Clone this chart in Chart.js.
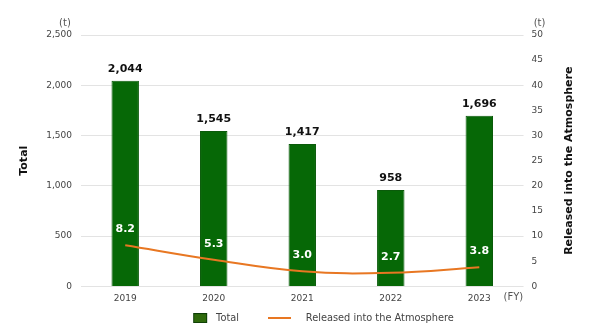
<!DOCTYPE html>
<html>
<head>
<meta charset="utf-8">
<script src="https://cdn.jsdelivr.net/npm/chart.js@4.4.0/dist/chart.umd.min.js"></script>
<style>
  body { margin: 0; background: #fff; }
  #wrap { width: 600px; height: 330px; }
</style>
</head>
<body>
<div id="wrap"><canvas id="chart" width="600" height="330"></canvas></div>
<script>
// data
const years = ['2019', '2020', '2021', '2022', '2023'];
const totalValues = [2044, 1545, 1417, 958, 1696];
const releasedValues = [8.2, 5.3, 3.0, 2.7, 3.8];
const leftTicks = [0, 500, 1000, 1500, 2000, 2500];
const rightTicks = [0, 5, 10, 15, 20, 25, 30, 35, 40, 45, 50];

const green = '#066806';
const orange = '#e87722';
const font = "'DejaVu Sans', Verdana, sans-serif";

// little pictures for the legend (wide, so the items get spaced out)
var boxImg = document.createElement('canvas');
boxImg.width = 60; boxImg.height = 10;
var bctx = boxImg.getContext('2d');
bctx.fillStyle = '#2f6a0c';
bctx.fillRect(42, 0, 14, 10);
bctx.strokeStyle = '#0c3d06';
bctx.lineWidth = 1;
bctx.strokeRect(42.5, 0.5, 13, 9);

var lineImg = document.createElement('canvas');
lineImg.width = 60; lineImg.height = 2;
var lctx = lineImg.getContext('2d');
lctx.fillStyle = orange;
lctx.fillRect(27, 0, 23, 2);

// push the legend a bit to the right, like the original
const legendShift = {
  id: 'legendShift',
  afterLayout(chart) {
    chart.legend.left += 18;
    chart.legend.right += 18;
  }
};

// value labels, (t), (FY) and the right axis title
const extraText = {
  id: 'extraText',
  afterDatasetsDraw(chart) {
    const ctx = chart.ctx;
    const barMeta = chart.getDatasetMeta(0);
    const lineMeta = chart.getDatasetMeta(1);
    ctx.save();
    ctx.textAlign = 'center';
    ctx.textBaseline = 'middle';
    ctx.font = 'bold 11px ' + font;
    ctx.fillStyle = '#111';
    barMeta.data.forEach(function (bar, i) {
      ctx.fillText(totalValues[i].toLocaleString('en-US'), bar.x, bar.y - 12);
    });
    ctx.fillStyle = '#fff';
    lineMeta.data.forEach(function (pt, i) {
      ctx.fillText(releasedValues[i].toFixed(1), pt.x, pt.y - 16);
    });

    ctx.font = '10px ' + font;
    ctx.fillStyle = '#555';
    const yl = chart.scales.y;
    const yr = chart.scales.y2;
    const x = chart.scales.x;
    ctx.fillText('(t)', yl.right - 16, yl.top - 12);
    ctx.fillText('(t)', yr.left + 16, yr.top - 12);
    ctx.textAlign = 'left';
    ctx.fillText('(FY)', chart.chartArea.right - 20, x.top + 11);

    // right title reads bottom to top
    ctx.translate(yr.right + 18, (yr.top + yr.bottom) / 2);
    ctx.rotate(-Math.PI / 2);
    ctx.textAlign = 'center';
    ctx.font = 'bold 11px ' + font;
    ctx.fillStyle = '#111';
    ctx.fillText('Released into the Atmosphere', 0, 0);
    ctx.restore();
  }
};

const myChart = new Chart('chart', {
  type: 'bar',
  data: {
    labels: years,
    datasets: [{
      label: 'Total',
      data: totalValues,
      backgroundColor: green,
      borderColor: '#0a5a0a',
      borderWidth: 1,
      barPercentage: 0.31,
      categoryPercentage: 1,
      yAxisID: 'y',
      order: 2
    }, {
      type: 'line',
      label: 'Released into the Atmosphere',
      data: releasedValues,
      borderColor: orange,
      borderWidth: 2,
      tension: 0.4,
      pointRadius: 0,
      fill: false,
      yAxisID: 'y2',
      order: 1
    }]
  },
  options: {
    responsive: false,
    animation: false,
    layout: { padding: { left: 18, right: 49, top: 35, bottom: -3 } },
    plugins: {
      tooltip: { enabled: false },
      legend: {
        position: 'bottom',
        labels: {
          usePointStyle: true,
          pointStyleWidth: 60,
          boxHeight: 10,
          padding: 2,
          color: '#444',
          font: { family: font, size: 9.8 },
          generateLabels: function () {
            return [
              { text: 'Total', pointStyle: boxImg, fontColor: '#444', datasetIndex: 0, lineWidth: 0 },
              { text: 'Released into the Atmosphere', pointStyle: lineImg, fontColor: '#444', datasetIndex: 1, lineWidth: 0 }
            ];
          }
        }
      }
    },
    scales: {
      x: {
        grid: { display: false, drawTicks: false },
        border: { display: false },
        ticks: { color: '#444', font: { family: font, size: 9 }, padding: 7 }
      },
      y: {
        position: 'left',
        min: 0,
        max: 2500,
        afterBuildTicks: function (s) { s.ticks = leftTicks.map(v => ({ value: v })); },
        grid: { color: '#e3e3e3', drawTicks: false },
        border: { display: false },
        ticks: {
          color: '#444',
          padding: 9,
          font: { family: font, size: 9 },
          callback: v => v.toLocaleString('en-US')
        },
        title: { display: true, text: 'Total', color: '#111', font: { family: font, size: 11, weight: 'bold' }, padding: { top: 0, bottom: 6 } }
      },
      y2: {
        position: 'right',
        min: 0,
        max: 50,
        afterBuildTicks: function (s) { s.ticks = rightTicks.map(v => ({ value: v })); },
        grid: { display: false, drawTicks: false },
        border: { display: false },
        ticks: { color: '#444', padding: 8, font: { family: font, size: 9 } }
      }
    }
  },
  plugins: [legendShift, extraText]
});
</script>
</body>
</html>
